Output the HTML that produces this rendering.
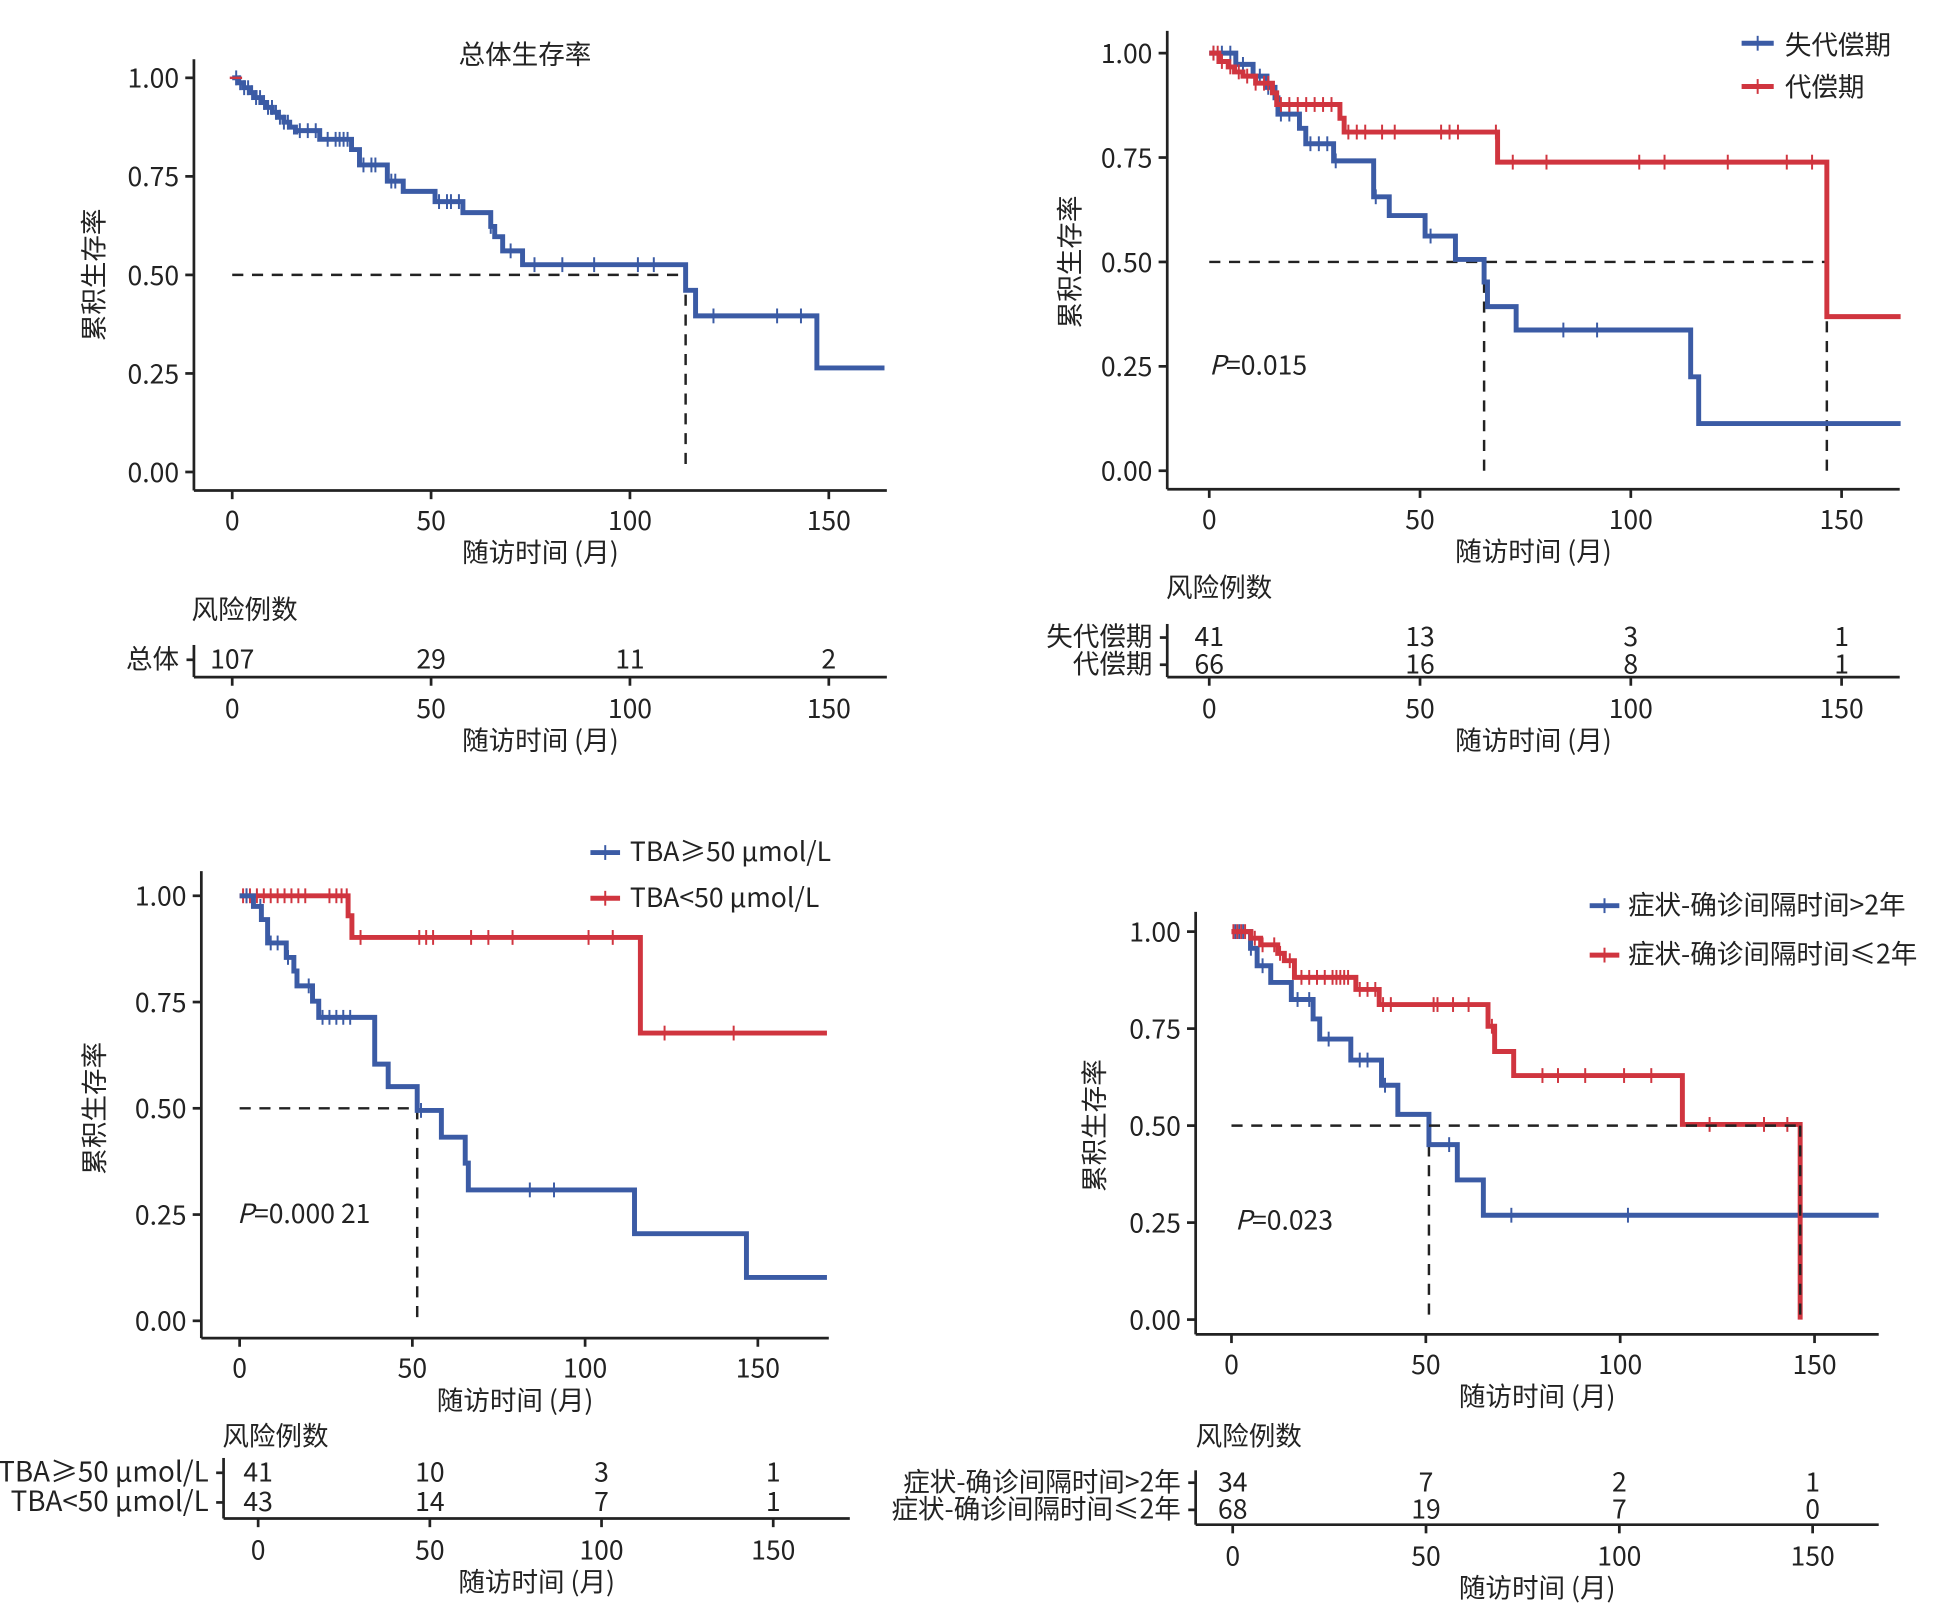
<!DOCTYPE html>
<html><head><meta charset="utf-8"><style>
html,body{margin:0;padding:0;background:#fff;}
svg{display:block;}
text{font-family:"Noto Sans CJK SC","Liberation Sans",sans-serif;fill:#222;}
</style></head><body>
<svg id="s" width="1938" height="1605" viewBox="0 0 1569 1299" preserveAspectRatio="none" xmlns="http://www.w3.org/2000/svg"></svg>
<script>
const S=document.getElementById('s');
const B='#3b5ba5',R='#d0353f';
let h='';
function txt(x,y,t,o={}){h+=`<text x="${x}" y="${y}" font-size="${o.fs||21.5}" text-anchor="${o.a||'middle'}" ${o.tr?`transform="${o.tr}"`:''}>${t}</text>`;}
function line(x1,y1,x2,y2,c='#222',w=2.2,d=''){h+=`<line x1="${x1}" y1="${y1}" x2="${x2}" y2="${y2}" stroke="${c}" stroke-width="${w}" ${d?`stroke-dasharray="${d}"`:''}/>`;}
function panel(p){
 const X=t=>p.x0+t*p.sx, Y=s=>p.y1-s*p.sy;
 line(p.ax,p.ay0,p.ax,p.ay1);line(p.ax,p.ay1,p.axr,p.ay1);
 [0,0.25,0.5,0.75,1].forEach(v=>{line(p.ax-7,Y(v),p.ax,Y(v));txt(p.ax-12,Y(v)+8,v.toFixed(2),{a:'end'});});
 [0,50,100,150].forEach(v=>{line(X(v),p.ay1,X(v),p.ay1+7);txt(X(v),p.ay1+32,v);});
 txt((p.ax+p.axr)/2,p.ay1+58,'随访时间 (月)');
 txt(p.ylx,(Y(0)+Y(1))/2,'累积生存率',{tr:`rotate(-90 ${p.ylx} ${(Y(0)+Y(1))/2})`});
 p.dash.forEach(d=>line(X(d[0]),Y(d[1]),X(d[2]),Y(d[3]),'#222',2,'9,7'));
 p.curves.forEach(c=>{
  let st=c.steps, d=`M${X(st[0][0])} ${Y(st[0][1])}`;
  for(let i=1;i<st.length;i++){d+=` H${X(st[i][0])} V${Y(st[i][1])}`;}
  d+=` H${X(c.end)}`;
  h+=`<path d="${d}" fill="none" stroke="${c.c}" stroke-width="4"/>`;
  (c.cens||[]).forEach(t=>{let s=st[0][1];for(const q of st){if(q[0]<=t)s=q[1];}line(X(t),Y(s)-6,X(t),Y(s)+6,c.c,1.6);});
 });
 if(p.after)p.after.forEach(d=>line(X(d[0]),Y(d[1]),X(d[2]),Y(d[3]),'#222',2,'9,7'));
 const r=p.risk, RX=t=>r.x0+t*r.sx, rax=r.ax||p.ax, raxr=r.axr||p.axr;
 txt(r.tx,r.ty,'风险例数',{a:'start'});
 line(rax,r.ay0,rax,r.ay1);line(rax,r.ay1,raxr,r.ay1);
 r.rows.forEach(row=>{line(rax-6,row.y-7,rax,row.y-7);txt(rax-12,row.y,row.lab,{a:'end',fs:r.fs});
   row.n.forEach((n,i)=>txt(RX(i*50),row.y,n));});
 [0,50,100,150].forEach(v=>{line(RX(v),r.ay1,RX(v),r.ay1+7);txt(RX(v),r.ay1+33,v);});
 txt((rax+raxr)/2,r.ay1+59,'随访时间 (月)');
}
let s1=[[0,1]];{let s=1;for(let t=1.4;t<16;t+=1.45){s-=0.0125;s1.push([t,s]);}}
s1=s1.concat([[16,0.866],[22,0.844],[30,0.818],[32,0.779],[39,0.738],[43,0.712],[51,0.686],[58,0.658],[65,0.623],[66,0.597],[68,0.561],[73,0.526],[114,0.461],[116.5,0.396],[147,0.264]]);
panel({x0:188,sx:3.22,y1:382,sy:319,ax:157,ay0:48,ay1:397,axr:718,ylx:84,
 dash:[[0,0.5,114,0.5],[114,0.5,114,0]],
 curves:[{c:B,steps:s1,end:164,cens:[1,2,3,4,5,6,7,8,9,10,11,12,13,14,17,19,21,24,26,27,28,29,33,35,36,40,41,52,54,55,57,65,70,76,83,91,102,106,121,137,143]}],
 risk:{x0:188,sx:3.22,tx:155,ty:501,ay0:522,ay1:548,rows:[{y:541,lab:'总体',n:[107,29,11,2]}]}});
txt(425,52,'总体生存率');
h+=`<line x1="186" y1="63" x2="196" y2="63" stroke="${R}" stroke-width="2"/>`;
panel({x0:979,sx:3.413,y1:381,sy:338,ax:945,ay0:25,ay1:396,axr:1538,ylx:874,
 dash:[[0,0.5,146.5,0.5],[65.2,0.5,65.2,0],[146.5,0.5,146.5,0]],
 curves:[
 {c:B,steps:[[0,1],[6.3,0.973],[10.4,0.945],[13.7,0.918],[15.6,0.893],[16.3,0.854],[21.4,0.82],[22.9,0.783],[29.5,0.742],[39,0.656],[42.7,0.611],[51.2,0.562],[58.4,0.506],[65.2,0.452],[66,0.393],[72.8,0.337],[114.2,0.225],[116.1,0.113]],end:164,cens:[1,3,5,8,12,14,17,19,24,26,28,30,39.5,52.5,84,92]},
 {c:R,steps:[[0,1],[2.3,0.98],[4.5,0.967],[6,0.955],[8,0.945],[11,0.928],[15,0.905],[16,0.877],[31,0.844],[32,0.811],[68.4,0.739],[146.5,0.369]],end:164,cens:[1,2,3,5,7,9,11,13,14,17,19,21,23,25,27,29,33,35,37,41,44,55,57,59,68,72,80,102,108,123,137,143]}],
 risk:{x0:979,sx:3.413,tx:944,ty:483,ay0:505,ay1:548,rows:[{y:523,lab:'失代偿期',n:[41,13,3,1]},{y:545,lab:'代偿期',n:[66,16,8,1]}]}});
line(1410,35,1436,35,B,4);line(1423,29,1423,41,B,1.6);txt(1445,44,'失代偿期',{a:'start'});
line(1410,70,1436,70,R,4);line(1423,64,1423,76,R,1.6);txt(1445,78,'代偿期',{a:'start'});
txt(979,303,'<tspan font-style="italic">P</tspan>=0.015',{a:'start'});
panel({x0:194,sx:2.797,y1:1069,sy:344,ax:163,ay0:705,ay1:1083,axr:671,ylx:84,
 dash:[[0,0.5,51.4,0.5],[51.4,0.5,51.4,0]],
 curves:[
 {c:R,steps:[[0,1],[31.4,0.953],[32.5,0.902],[116,0.677]],end:170,cens:[1,2,3,5,7,9,11,13,15,17,19,26,28,29.5,31,35,52,54,56,67,72,79,101,108,123,143]},
 {c:B,steps:[[0,1],[4,0.975],[6.3,0.944],[8.1,0.889],[13.5,0.855],[15.7,0.823],[16.6,0.788],[21.1,0.752],[22.9,0.714],[39.1,0.604],[43,0.551],[51.4,0.495],[58.4,0.432],[65.3,0.371],[66.2,0.308],[114.3,0.205],[146.7,0.102]],end:170,cens:[2,6,9,11,14,20,24,26,28,30,32,52.5,84,91]}],
 risk:{x0:209,sx:2.78,tx:180,ty:1170,ax:181,axr:688,fs:22.5,ay0:1180,ay1:1229,rows:[{y:1199,lab:'TBA≥50 μmol/L',n:[41,10,3,1]},{y:1223,lab:'TBA&lt;50 μmol/L',n:[43,14,7,1]}]}});
line(478,690,502,690,B,4);line(490,684,490,696,B,1.6);txt(510,697,'TBA≥50 μmol/L',{a:'start'});
line(478,727,502,727,R,4);line(490,721,490,733,R,1.6);txt(510,734,'TBA&lt;50 μmol/L',{a:'start'});
txt(192,990,'<tspan font-style="italic">P</tspan>=0.000 21',{a:'start'});
panel({x0:997,sx:3.147,y1:1068,sy:314,ax:968,ay0:738,ay1:1080,axr:1521,ylx:894,
 dash:[[0,0.5,50.8,0.5],[50.8,0.5,50.8,0]],
 curves:[
 {c:B,steps:[[0,1],[4.9,0.957],[6.6,0.912],[10.1,0.869],[15.4,0.825],[21,0.775],[22.7,0.723],[30.7,0.669],[38.6,0.604],[42.8,0.529],[50.8,0.451],[58.1,0.36],[64.8,0.269]],end:166.5,cens:[1,2,3,5,8,17,20,25,33,35,39.5,56,72,102]},
 {c:R,steps:[[0,1],[5,0.983],[7.5,0.966],[11.9,0.944],[13.6,0.925],[16.2,0.882],[32,0.851],[38,0.812],[66,0.756],[67.7,0.691],[72.6,0.629],[116,0.503],[146.3,0]],end:146.3,cens:[0.5,1.5,2.5,3.5,6,8,11,12.5,15,18,20,22,24,26,27,28,29,30,33,35,37,39,41,52,53,57,61,67,80,84,91,101,108,123,137,143]}],
 after:[[50.8,0.5,146.3,0.5],[146.3,0.5,146.3,0]],
 risk:{x0:998,sx:3.13,tx:968,ty:1170,ay0:1190,ay1:1234,rows:[{y:1207,lab:'症状-确诊间隔时间>2年',n:[34,7,2,1]},{y:1229,lab:'症状-确诊间隔时间≤2年',n:[68,19,7,0]}]}});
line(1287,733,1311,733,B,4);line(1299,727,1299,739,B,1.6);txt(1318,740,'症状-确诊间隔时间>2年',{a:'start'});
line(1287,773,1311,773,R,4);line(1299,767,1299,779,R,1.6);txt(1318,780,'症状-确诊间隔时间≤2年',{a:'start'});
txt(1000,995,'<tspan font-style="italic">P</tspan>=0.023',{a:'start'});
S.innerHTML=h;
</script>
</body></html>
